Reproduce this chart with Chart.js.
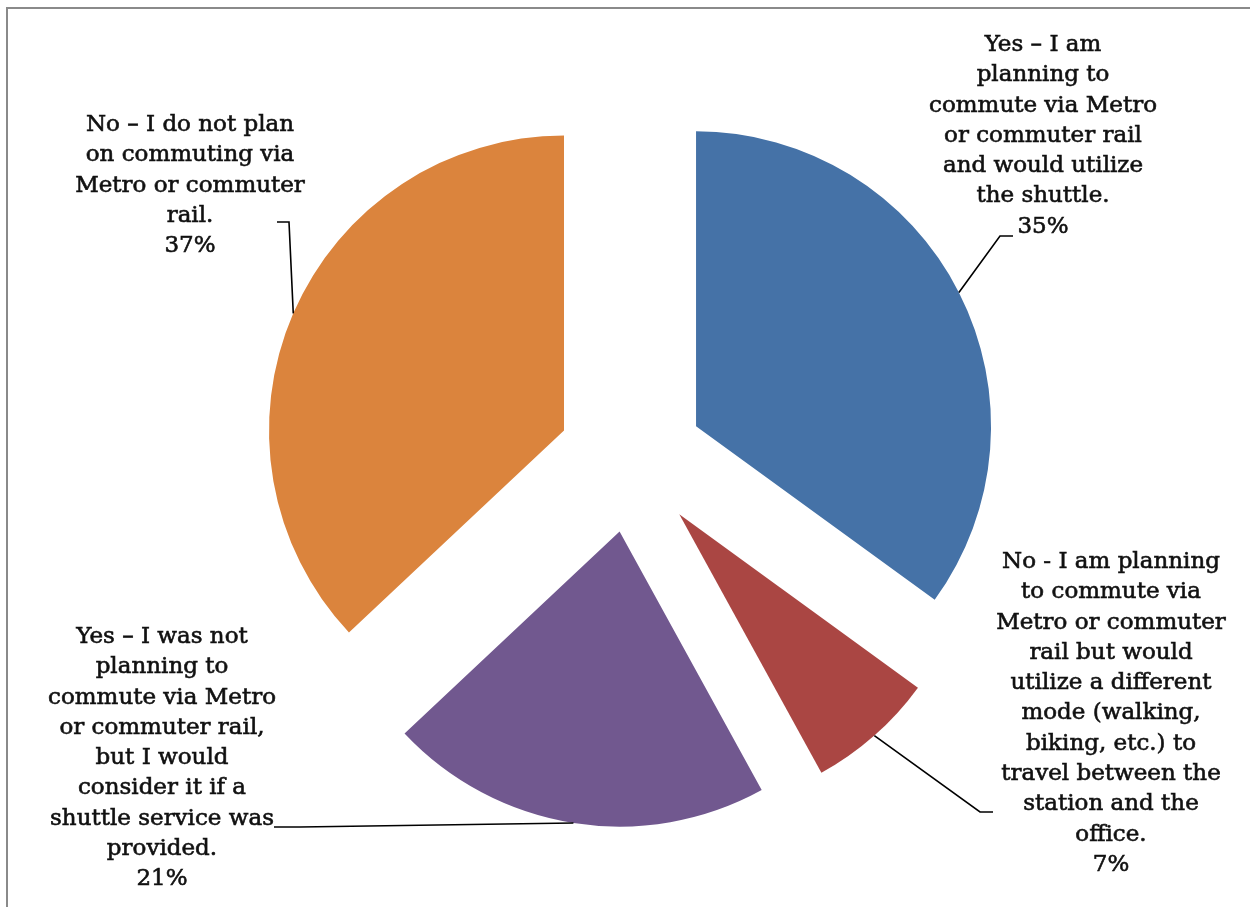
<!DOCTYPE html>
<html>
<head>
<meta charset="utf-8">
<script src="https://cdn.jsdelivr.net/npm/chart.js@4"></script>
<style>
  body { margin: 0; background: #fff; }
  #wrap { position: relative; width: 1250px; height: 907px; overflow: hidden; }
  #frame { position: absolute; left: 6px; top: 7px; right: -10px; bottom: -10px;
           border-left: 2px solid #8a8a8a; border-top: 2px solid #8a8a8a; }
  canvas { position: absolute; left: 0; top: 0; }
</style>
</head>
<body>
<div id="wrap">
  <div id="frame"></div>
  <canvas id="shuttle" width="1250" height="907"></canvas>
</div>
<script>
// survey answers, wrapped the way they are printed
var categories = [
  ['Yes \u2013 I am', 'planning to', 'commute via Metro', 'or commuter rail', 'and would utilize', 'the shuttle.'],
  ['No - I am planning', 'to commute via', 'Metro or commuter', 'rail but would', 'utilize a different', 'mode (walking,', 'biking, etc.) to', 'travel between the', 'station and the', 'office.'],
  ['Yes \u2013 I was not', 'planning to', 'commute via Metro', 'or commuter rail,', 'but I would', 'consider it if a', 'shuttle service was', 'provided.'],
  ['No \u2013 I do not plan', 'on commuting via', 'Metro or commuter', 'rail.']
];
var shares = [35, 7, 21, 37];
var sliceColors = ['#4572A7', '#AA4643', '#71588F', '#DB843D'];

var RADIUS = 295;
var EXPLODE = 292; // arc offset (library translates by offset / 4)

// label block: centre x, first line y, elbow and end of the leader line
var callouts = [
  { x: 1043, y: 45,  elbow: [1000, 236], end: [1013, 236] },
  { x: 1111, y: 562, elbow: [980, 812],  end: [993, 812] },
  { x: 162,  y: 637, elbow: [300, 827],  end: [274, 827] },
  { x: 190,  y: 125, elbow: [289, 222],  end: [277, 222] }
];
var LINE_H = 30.3;

// keep every slice the same radius and full angle after the offset is applied
var sameRadius = {
  id: 'sameRadius',
  afterDatasetUpdate: function(chart, args) {
    args.meta.data.forEach(function(arc) {
      var t = (arc.options.offset || 0) / 4;
      var fix = 1 - Math.sin(Math.min(Math.PI, arc.circumference));
      var grow = t * fix;
      arc.outerRadius = RADIUS - grow;
      var widen = grow / (2 * Math.PI * RADIUS);
      arc.startAngle -= widen;
      arc.endAngle += widen;
    });
  }
};

var calloutLabels = {
  id: 'calloutLabels',
  afterDraw: function(chart) {
    var ctx = chart.ctx;
    var meta = chart.getDatasetMeta(0);
    ctx.save();
    meta.data.forEach(function(arc, i) {
      var c = callouts[i];
      var mid = (arc.startAngle + arc.endAngle) / 2;
      var d = (arc.options.offset || 0) / 4 + RADIUS;
      var ax = arc.x + Math.cos(mid) * d;
      var ay = arc.y + Math.sin(mid) * d;
      ctx.strokeStyle = '#000';
      ctx.lineWidth = 1.6;
      ctx.beginPath();
      ctx.moveTo(ax, ay);
      ctx.lineTo(c.elbow[0], c.elbow[1]);
      ctx.lineTo(c.end[0], c.end[1]);
      ctx.stroke();

      var lines = categories[i].concat([shares[i] + '%']);
      ctx.fillStyle = '#111';
      ctx.strokeStyle = '#111';
      ctx.lineWidth = 0.6;
      ctx.font = '23px "DejaVu Serif"';
      ctx.textAlign = 'center';
      ctx.textBaseline = 'middle';
      lines.forEach(function(s, k) {
        ctx.fillText(s, c.x, c.y + k * LINE_H);
        ctx.strokeText(s, c.x, c.y + k * LINE_H);
      });
    });
    ctx.restore();
  }
};

var ctx = document.getElementById('shuttle').getContext('2d');
var myChart = new Chart(ctx, {
  type: 'pie',
  data: {
    labels: categories.map(function(l) { return l.join(' '); }),
    datasets: [{
      data: shares,
      backgroundColor: sliceColors,
      borderWidth: 0,
      offset: EXPLODE
    }]
  },
  options: {
    responsive: false,
    animation: false,
    radius: RADIUS,
    layout: { padding: { left: 12, top: 12, right: 0, bottom: 0 } },
    plugins: {
      legend: { display: false },
      tooltip: { enabled: false }
    }
  },
  plugins: [sameRadius, calloutLabels]
});
</script>
</body>
</html>
